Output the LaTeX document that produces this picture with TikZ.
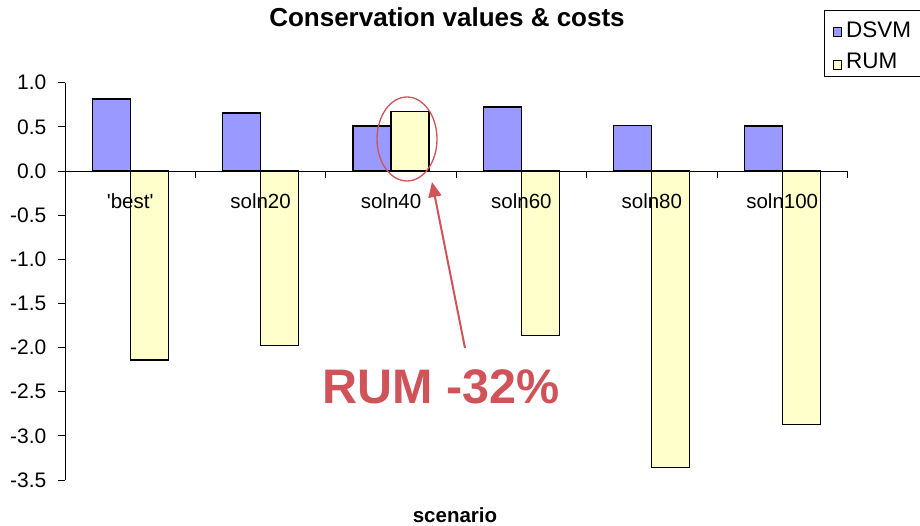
\documentclass[tikz,border=0pt]{standalone}
\usepackage{fontspec}
\setmainfont{Liberation Sans}
\usepackage{tikz}
\usetikzlibrary{arrows.meta,shapes.geometric}
\definecolor{dsvm}{HTML}{9999FF}
\definecolor{rum}{HTML}{FFFFCC}
\definecolor{callred}{HTML}{CF5358}
\tikzset{
  axis/.style={draw=black, line width=1pt},
  dbar/.style={fill=dsvm, draw=black, line width=1.1pt},
  rbar/.style={fill=rum, draw=black, line width=1.1pt},
  ticklbl/.style={font=\fontsize{21}{23}\selectfont, inner sep=0pt},
  catlbl/.style={font=\fontsize{20.5}{22}\selectfont, inner sep=0pt, anchor=base},
  leglbl/.style={font=\fontsize{22.5}{24}\selectfont, inner sep=0pt, anchor=base west},
  ttl/.style={font=\bfseries\fontsize{26}{28}\selectfont, inner sep=0pt, anchor=base},
  callout/.style={draw=callred, line width=2pt, -{Triangle[length=15pt,width=13pt]}},
  ring/.style={draw=callred, line width=1.3pt, ellipse, inner sep=0pt}
}

\begin{document}
\begin{tikzpicture}[x=1pt, y=-1pt]
  \clip (0,0) rectangle (920,525);
  \fill[white] (0,0) rectangle (920,525);

  % title and axis name
  \node[ttl] (title) at (447,26.5) {Conservation values \& costs};
  \node[ttl, font=\bfseries\fontsize{20.5}{22}\selectfont] (xname) at (455,522) {scenario};

  % chart area: origin on the zero line, y in data units
  \begin{scope}[shift={(65,171)}, y=88.3pt]
    \foreach \i/\d/\r in {0/0.815/-2.14, 1/0.657/-1.98, 2/0.51/0.67,
                          3/0.725/-1.86, 4/0.52/-3.36, 5/0.51/-2.87}{
      \pgfmathsetmacro{\c}{130.4*\i+65.2}
      \draw[dbar] (\c-38,0) rectangle (\c,\d);
      \draw[rbar] (\c,0) rectangle (\c+38,\r);
    }

    % axes
    \draw[axis] (0,1) -- (0,-3.5);
    \draw[axis] (0,0) -- (782.4,0);
    \foreach \k in {1,...,6}
      \draw[axis] (130.4*\k,0) -- ++(0,-0.08);
    \foreach \v/\t in {1/1.0, 0.5/0.5, 0/0.0, -0.5/-0.5, -1/-1.0, -1.5/-1.5,
                       -2/-2.0, -2.5/-2.5, -3/-3.0, -3.5/-3.5}{
      \draw[axis] (-7,\v) -- (0,\v);
      \node[ticklbl, anchor=east] at (-18.5,\v) {\t};
    }

    % category names sit over the bars
    \foreach \i/\name in {0/\textquotesingle best\textquotesingle, 1/soln20, 2/soln40,
                          3/soln60, 4/soln80, 5/soln100}
      \node[catlbl] (cat\i) at (130.4*\i+65.2,-0.43) {\name};
  \end{scope}

  % legend
  \draw[line width=1pt] (824,10) rectangle (930,76);
  \draw[fill=dsvm, line width=0.8pt] (833,27) rectangle (841,36);
  \draw[fill=rum, line width=0.8pt] (833,60) rectangle (841,69);
  \node[leglbl] (legd) at (846,37.5) {DSVM};
  \node[leglbl] (legr) at (846,68.5) {RUM};

  % highlight on soln40
  \node[ring, minimum width=60pt, minimum height=84pt] (hilite) at (407,139) {};
  \coordinate (tip) at (432,182);
  \coordinate (tail) at (465,348);
  \draw[callout] (tail) -- (tip);
  \node[ttl, text=callred, font=\bfseries\fontsize{48.5}{52}\selectfont] (note) at (441,403) {RUM -32\%};
\end{tikzpicture}
\end{document}
